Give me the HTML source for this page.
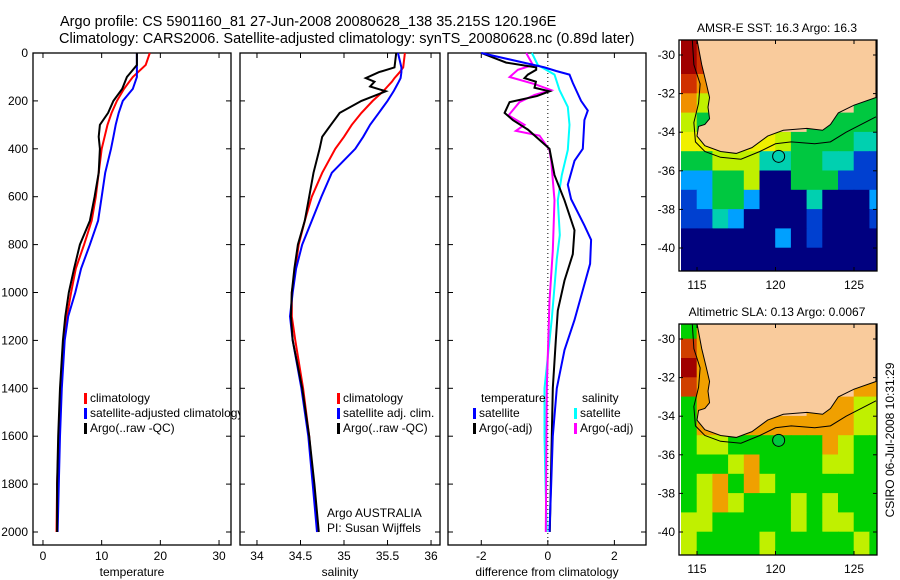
<!DOCTYPE html>
<html><head><meta charset="utf-8">
<style>
body{margin:0;background:#fff;}
svg{display:block;font-family:"Liberation Sans",sans-serif;}
text{fill:#000;}
</style></head>
<body>
<svg id="c" width="900" height="580" viewBox="0 0 900 580" xmlns="http://www.w3.org/2000/svg">
<rect x="0" y="0" width="900" height="580" fill="#fff"/>
<text x="60" y="26" font-size="14.5" text-anchor="start">Argo profile: CS 5901160_81 27-Jun-2008 20080628_138 35.215S 120.196E</text>
<text x="59" y="43" font-size="14.5" text-anchor="start">Climatology: CARS2006. Satellite-adjusted climatology: synTS_20080628.nc (0.89d later)</text>
<g id="g"></g>
</svg>
<script>
// ---- data ----
const depths = [0,50,100,150,200,250,300,350,400,500,600,700,800,900,1000,1100,1200,1400,1600,1800,2000];
const tempClim = [18.2,17.5,15.3,13.8,12.6,11.7,11.0,10.5,10.0,9.5,9.0,8.3,7.0,5.6,4.8,4.1,3.6,3.1,2.7,2.4,2.3];
const tempSat  = [16.0,16.0,16.0,15.3,13.6,12.9,12.4,12.0,11.6,10.6,10.0,9.4,8.0,6.5,5.5,4.3,3.7,3.2,2.9,2.7,2.5];
const tempArgo = [16.0,16.0,14.3,13.5,12.0,11.1,9.7,9.5,9.7,9.5,8.8,8.0,6.3,5.3,4.4,3.8,3.4,2.9,2.6,2.4,2.4];
const salDepths = [0,60,80,105,120,140,160,200,250,300,350,400,500,600,700,800,900,1000,1100,1200,1400,1600,1800,2000];
const salClim = [35.70,35.68,35.64,35.58,35.55,35.50,35.45,35.33,35.20,35.09,35.00,34.90,34.75,34.63,34.55,34.48,34.44,34.40,34.40,34.44,34.53,34.60,34.65,34.70];
const salSat  = [35.62,35.66,35.66,35.65,35.63,35.60,35.57,35.50,35.40,35.30,35.22,35.13,34.86,34.74,34.63,34.52,34.45,34.41,34.38,34.41,34.51,34.59,34.64,34.69];
const salArgo = [35.60,35.58,35.40,35.25,35.35,35.30,35.48,35.20,34.95,34.85,34.75,34.72,34.65,34.60,34.55,34.47,34.43,34.40,34.39,34.41,34.52,34.60,34.66,34.71];
const dTempSatD = [0,60,75,90,125,200,240,280,400,450,550,610,720,780,880,990,1115,1240,1400,1600,1800,2000];
const dTempSat  = [-2.0,-0.1,0.25,0.65,0.75,1.0,1.2,1.1,1.05,0.8,0.6,0.7,1.1,1.3,1.27,1.05,0.8,0.5,0.27,0.15,0.1,0.05];
const dTempArgoD = [0,40,60,70,90,105,120,145,160,180,205,250,280,320,400,510,615,740,840,950,1075,1200,1400,1600,1800,2000];
const dTempArgo  = [-2.0,-1.25,-0.35,-0.35,-0.6,-0.7,-0.36,-0.4,0.05,-0.33,-1.15,-1.3,-1.05,-0.6,0.05,0.2,0.5,0.8,0.75,0.5,0.3,0.24,0.15,0.12,0.09,0.06];
const dSalSatD = [0,50,90,155,225,300,405,510,615,760,860,1110,1400,1600,1800,2000];
const dSalSat  = [-0.48,-0.3,0.2,0.35,0.6,0.65,0.6,0.42,0.3,0.36,0.27,0.12,-0.1,-0.1,-0.07,-0.03];
const dSalArgoD = [0,50,70,100,130,155,175,205,260,300,325,345,405,450,615,825,1035,1400,2000];
const dSalArgo  = [-0.65,-0.45,-0.9,-1.15,-0.4,0.1,-0.4,-0.85,-1.18,-0.7,-0.96,-0.25,0.05,0.1,0.2,0.15,0.05,-0.03,-0.06];
const depthTicks = [0,200,400,600,800,1000,1200,1400,1600,1800,2000];
const tempTicks = [0,10,20,30];
const salTicks = [34,34.5,35,35.5,36];
const salTickLabels = ["34","34.5","35","35.5","36"];
const diffTicks = [-2,0,2];
const latTicks = [-30,-32,-34,-36,-38,-40];
const lonTicks = [115,120,125];
const sstGrid = [
"DRPPPPPPPPPPP","DRPPPPPPPPPPP","ROPPPPPPPPPPP","OYPPPPPPPPPGG","YGPPPPPPGGGGG",
"yyyyyyYGGGGCC","GGYYYCCGGCCBB","LLGGYNNGGGBBB","BLGGLNNNCNNNL","BBCLNNNNBNNNB",
"NNNNNNLNBNNNN","NNNNNNNNNNNNN","NNNNNNNNNNNNN"];
const slaGrid = [
"GOPPPPPPPPPPP","ROPPPPPPPPPPP","DOPPPPPPPPPPP","ROPPPPPPPPPOO","GOPPPPPPOOOYY",
"GOOOOOOOOOOYY","GYYGGGGGGOYGG","GGGYOGGGGYYGG","GYOGOYGGGGGGG","GYOYGGGYGYGGG",
"YYGGGGGYGYYGG","YGGGGYGGGGGYG","YGGGGYGGGGGYG"];
// ---- helpers ----
const NS="http://www.w3.org/2000/svg", G=document.getElementById('g');
function mk(tag,attrs,parent){const e=document.createElementNS(NS,tag);for(const k in attrs)e.setAttribute(k,attrs[k]);(parent||G).appendChild(e);return e;}
function txt(x,y,s,size,anchor,parent){const t=mk('text',{x:x,y:y,'font-size':size||12,'text-anchor':anchor||'middle'},parent);t.textContent=s;return t;}
const Y0=53, Y1=545, yD=d=>Y0+d*0.2395;
function panel(name,x0,x1,vmin,vmax,xt,xtl,xlabel,showY){
  const sx=v=>x0+(v-vmin)/(vmax-vmin)*(x1-x0);
  const g=mk('g',{});
  
  
  const r=mk('rect',{x:x0,y:Y0,width:x1-x0,height:Y1-Y0,fill:'#fff',stroke:'#000','stroke-width':1.3},g);
  
  
  depthTicks.forEach(d=>{const y=yD(d);mk('line',{x1:x0,x2:x0+5,y1:y,y2:y,stroke:'#000'},g);mk('line',{x1:x1-5,x2:x1,y1:y,y2:y,stroke:'#000'},g);
    if(showY){const t=txt(x0-5,y+4,String(d),12,'end',g);}});
  xt.forEach((v,i)=>{const x=sx(v);mk('line',{x1:x,x2:x,y1:Y1,y2:Y1-5,stroke:'#000'},g);mk('line',{x1:x,x2:x,y1:Y0,y2:Y0+5,stroke:'#000'},g);
    const t=txt(x,Y1+15,xtl[i],12,'middle',g);});
  const xl=txt((x0+x1)/2,Y1+31,xlabel,12,'middle',g);
  
  
  return {sx,g};
}
function line(p,ds,vs,color,name){
  const pts=ds.map((d,i)=>p.sx(vs[i]).toFixed(1)+','+yD(d).toFixed(1)).join(' ');
  const l=mk('polyline',{points:pts,fill:'none',stroke:color,'stroke-width':2},p.g);
  
  
}
function legend(x,y,color,label,parent,name){
  const b=mk('rect',{x:x,y:y-9,width:3,height:11,fill:color},parent);
  
  
  const t=txt(x+6,y,label,12,'start',parent);
  
  
}
// ---- panel 1 temperature ----
const p1=panel('temperature-panel',33,231,-1.7,32.04,tempTicks,tempTicks.map(String),'temperature',true);
line(p1,depths,tempClim,'#f00','temp-climatology-line');
line(p1,depths,tempSat,'#00f','temp-satellite-line');
line(p1,depths,tempArgo,'#000','temp-argo-line');
legend(84,402,'#f00','climatology',p1.g,'legend-climatology');
legend(84,417,'#00f','satellite-adjusted climatology',p1.g,'legend-satellite-adjusted');
legend(84,432,'#000','Argo(..raw -QC)',p1.g,'legend-argo-raw');
// ---- panel 2 salinity ----
const p2=panel('salinity-panel',240,440,33.805,36.103,salTicks,salTickLabels,'salinity',false);
line(p2,salDepths,salClim,'#f00','sal-climatology-line');
line(p2,salDepths,salSat,'#00f','sal-satellite-line');
line(p2,salDepths,salArgo,'#000','sal-argo-line');
legend(337,402,'#f00','climatology',p2.g,'legend2-climatology');
legend(337,417,'#00f','satellite adj. clim.',p2.g,'legend2-satellite');
legend(337,432,'#000','Argo(..raw -QC)',p2.g,'legend2-argo');
let t=txt(327,517,'Argo AUSTRALIA',12,'start',p2.g);


t=txt(327,532,'PI: Susan Wijffels',12,'start',p2.g);


// ---- panel 3 difference ----
const p3=panel('difference-panel',448,646,-3.0,2.95,diffTicks,diffTicks.map(String),'difference from climatology',false);
const zl=mk('line',{x1:p3.sx(0),x2:p3.sx(0),y1:Y0,y2:Y1,stroke:'#000','stroke-dasharray':'1,3'},p3.g);


line(p3,dSalSatD,dSalSat,'#0ff','diff-sal-satellite-line');
line(p3,dSalArgoD,dSalArgo,'#f0f','diff-sal-argo-line');
line(p3,dTempArgoD,dTempArgo,'#000','diff-temp-argo-line');
line(p3,dTempSatD,dTempSat,'#00f','diff-temp-satellite-line');
t=txt(481,402,'temperature',12,'start',p3.g);


t=txt(582,402,'salinity',12,'start',p3.g);


legend(473,417,'#00f','satellite',p3.g,'legend3-temp-satellite');
legend(473,432,'#000','Argo(-adj)',p3.g,'legend3-temp-argo');
legend(574,417,'#0ff','satellite',p3.g,'legend3-sal-satellite');
legend(574,432,'#f0f','Argo(-adj)',p3.g,'legend3-sal-argo');
// ---- maps ----
const land=[[115.0,-29.2],[115.3,-30.5],[115.6,-31.5],[115.8,-32.2],[115.7,-32.7],[115.8,-33.3],[115.5,-33.6],[115.1,-33.7],[115.0,-34.2],[115.5,-34.7],[116.5,-35.0],[117.5,-35.1],[118.5,-34.8],[119.5,-34.2],[120.5,-33.9],[122,-33.8],[123,-33.9],[123.5,-33.6],[124,-33.0],[125,-32.6],[126.4,-32.2],[126.4,-29.2]];
const iso=[[114.7,-29.2],[114.8,-30.5],[115.2,-31.5],[115.1,-32.5],[114.8,-33.5],[114.9,-34.5],[115.5,-35.0],[116.5,-35.3],[117.8,-35.4],[119,-35.0],[120,-34.6],[121,-34.5],[122.5,-34.6],[123.5,-34.5],[124.5,-34.0],[126.4,-33.2]];
const sstCol={D:'#a00000',R:'#d03000',O:'#f09000',y:'#f0f000',Y:'#c0f000',G:'#00c840',C:'#00d0b0',L:'#00a0ff',B:'#0040d0',N:'#000080',P:'#f9cb9c'};
const slaCol={D:'#a00000',R:'#d04000',O:'#f0a000',y:'#f0f000',Y:'#c0f000',G:'#00d000',P:'#f9cb9c'};
function map(name,top,title,grid,cols,dotColor){
  const x0=679,x1=877,y0=top,y1=top+231,lat30=top+15;
  const sx=lo=>697+(lo-115)*15.7, sy=la=>lat30+(-30-la)*19.3;
  const g=mk('g',{});
  
  
  const cp=mk('clipPath',{id:name+'-clip'},g);
  mk('rect',{x:x0,y:y0,width:x1-x0,height:y1-y0},cp);
  const inner=mk('g',{'clip-path':'url(#'+name+'-clip)'},g);
  grid.forEach((row,r)=>{for(let c=0;c<row.length;c++){
    const cell=mk('rect',{x:sx(114+c)-0.3,y:sy(-29-r)-0.3,width:15.7+0.6,height:19.3+0.6,fill:cols[row[c]]},inner);
    
    }});
  const lp=mk('polygon',{points:land.map(p=>sx(p[0])+','+sy(p[1])).join(' '),fill:'#f9cb9c',stroke:'#000','stroke-width':1},inner);
  
  
  const il=mk('polyline',{points:iso.map(p=>sx(p[0])+','+sy(p[1])).join(' '),fill:'none',stroke:'#000','stroke-width':1},inner);
  
  
  const dot=mk('circle',{cx:sx(120.2),cy:sy(-35.25),r:6,fill:dotColor,stroke:'#000'},inner);
  
  
  const fr=mk('rect',{x:x0,y:y0,width:x1-x0,height:y1-y0,fill:'none',stroke:'#000','stroke-width':1.3},g);
  
  
  latTicks.forEach(la=>{const y=sy(la);mk('line',{x1:x0,x2:x0+4,y1:y,y2:y,stroke:'#000'},g);mk('line',{x1:x1-4,x2:x1,y1:y,y2:y,stroke:'#000'},g);
    const tl=txt(x0-4,y+4,String(la),12,'end',g);});
  lonTicks.forEach(lo=>{const x=sx(lo);mk('line',{x1:x,x2:x,y1:y0,y2:y0+4,stroke:'#000'},g);mk('line',{x1:x,x2:x,y1:y1,y2:y1-4,stroke:'#000'},g);
    const tl=txt(x,y1+18,String(lo),12,'middle',g);});
  const tt=txt(777,y0-8,title,12,'middle',g);
  
  
}
map('sst-map',40,'AMSR-E SST: 16.3 Argo: 16.3',sstGrid,sstCol,'#00d0b0');
map('sla-map',324,'Altimetric SLA: 0.13 Argo: 0.0067',slaGrid,slaCol,'#00c840');
const cs=txt(0,0,'CSIRO 06-Jul-2008 10:31:29',12,'middle');
cs.setAttribute('transform','translate(894,440) rotate(-90)');


</script>
</body></html>
